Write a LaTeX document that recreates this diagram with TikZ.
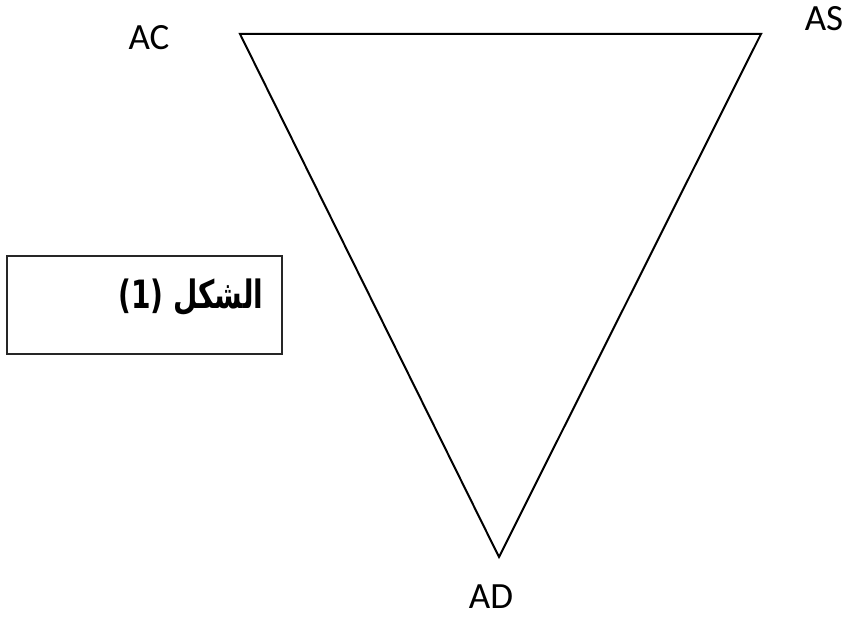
\documentclass[tikz,border=0pt]{standalone}
\usepackage{fontspec}
\setmainfont{Carlito}
\newfontfamily\arabicfont[Script=Arabic]{DejaVu Sans}
\TeXXeTstate=1
\usetikzlibrary{positioning}

\begin{document}
\begin{tikzpicture}[
    x=1pt, y=-1pt,
    vertexlabel/.style={font=\fontsize{37}{42}\selectfont, inner sep=0pt},
    side/.style={line width=2pt, line join=miter},
    captionbox/.style={draw=black!85, line width=1.2pt, minimum width=275pt, minimum height=98pt, inner sep=0pt},
]
    \useasboundingbox (0,0) rectangle (846,617);

    % Triangle corners
    \coordinate (c) at (240,34);
    \coordinate (s) at (761,34);
    \coordinate (d) at (499,557);
    \draw[side] (c) -- (s) -- (d) -- cycle;

    % Corner labels
    \node[vertexlabel] (lc) at (149,38) {AC};
    \node[vertexlabel] (ls) at (824,19) {AS};
    \node[vertexlabel] (ld) at (491,597) {AD};

    % Caption
    \node[captionbox] (box) at (144.5,305) {};
    \node[font=\arabicfont\bfseries\fontsize{39}{44}\selectfont, inner sep=0pt, xscale=0.72] (cap) at (191,297)
        {\beginR الشكل \beginL(1)\endL\endR};
\end{tikzpicture}
\end{document}
